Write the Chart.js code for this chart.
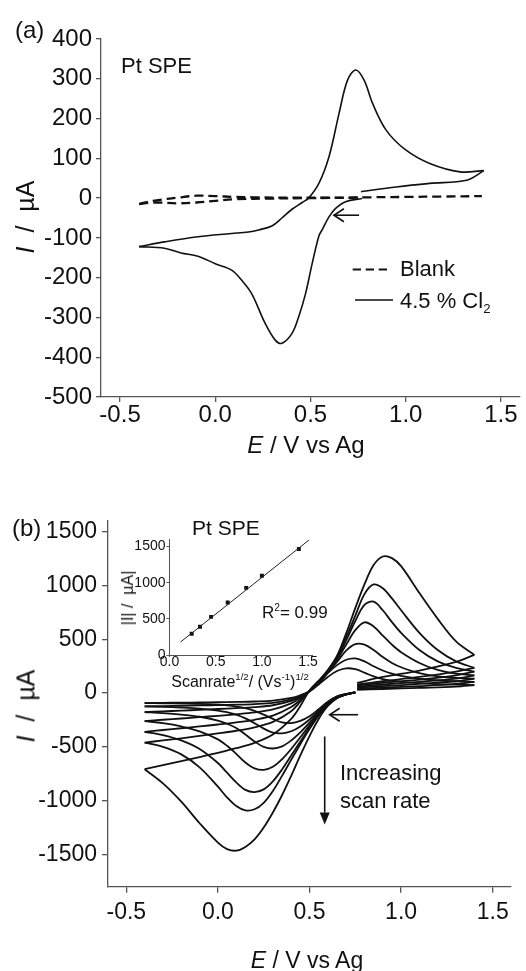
<!DOCTYPE html>
<html>
<head>
<meta charset="utf-8">
<title>Pt SPE cyclic voltammetry</title>
<script src="https://cdn.jsdelivr.net/npm/chart.js@4.4.1/dist/chart.umd.min.js"></script>
<style>
  html, body { margin: 0; padding: 0; background: #fff; }
  #fig { position: relative; width: 526px; height: 971px; overflow: hidden; font-family: 'Liberation Sans', Arial, sans-serif; color: #111; }
  #fig canvas { position: absolute; }
  .lbl { position: absolute; white-space: nowrap; line-height: 1; }
  .midy { transform: translateY(-50%); }
  .mid { transform: translate(-50%, -50%); }
  .rot { transform: translate(-50%, -50%) rotate(-90deg); }
  .sup { font-size: 0.6em; position: relative; top: -0.7em; }
  .sub { font-size: 0.6em; position: relative; top: 0.35em; }
</style>
</head>
<body>
<div id="fig">
  <canvas id="cvA" width="526" height="480" style="left:0;top:0"></canvas>
  <canvas id="cvB" width="526" height="491" style="left:0;top:480px"></canvas>
  <canvas id="cvInset" width="215" height="165" style="left:110px;top:530px"></canvas>

  <svg width="526" height="480" style="position:absolute;left:0;top:0">
    <line x1="352.7" y1="269.5" x2="387" y2="269.5" stroke="#111" stroke-width="2" stroke-dasharray="8.3 4.7"/>
    <line x1="355" y1="300" x2="393" y2="300" stroke="#111" stroke-width="1.5"/>
  </svg>

  <!-- panel (a) -->
  <div class="lbl midy" style="left:15px;top:30px;font-size:24px">(a)</div>
  <div class="lbl midy" style="left:121px;top:66px;font-size:22px">Pt SPE</div>
  <div class="lbl midy" style="left:400px;top:269px;font-size:22px">Blank</div>
  <div class="lbl midy" style="left:400px;top:301px;font-size:22px">4.5 % Cl<span class="sub">2</span></div>
  <div class="lbl mid" style="left:306px;top:445px;font-size:24px"><i>E</i> / V vs Ag</div>
  <div class="lbl rot" style="left:25px;top:217px;font-size:25px"><i>I</i>&nbsp;&nbsp;/&nbsp;&nbsp;µA</div>

  <!-- panel (b) -->
  <div class="lbl midy" style="left:12px;top:528px;font-size:24px">(b)</div>
  <div class="lbl midy" style="left:192px;top:527px;font-size:21px">Pt SPE</div>
  <div class="lbl rot" style="left:128px;top:598px;font-size:16px">|I|&nbsp;/&nbsp;&nbsp;µA|</div>
  <div class="lbl mid" style="left:240px;top:682px;font-size:16px">Scanrate<span class="sup">1/2</span>/ (Vs<span class="sup">-1</span>)<span class="sup">1/2</span></div>
  <div class="lbl midy" style="left:262px;top:612px;font-size:17px">R<span class="sup">2</span>= 0.99</div>
  <div class="lbl" style="left:340px;top:759px;font-size:22px;line-height:28px">Increasing<br>scan rate</div>
  <div class="lbl mid" style="left:307px;top:960px;font-size:23px"><i>E</i> / V vs Ag</div>
  <div class="lbl rot" style="left:26px;top:706px;font-size:25px"><i>I</i>&nbsp;&nbsp;/&nbsp;&nbsp;µA</div>
</div>

<script>
// ---- panel (a): 4.5 % Cl2 and blank, Pt SPE ----
const potentialTicks = [-0.5, 0.0, 0.5, 1.0, 1.5];
const currentTicksA = [-500, -400, -300, -200, -100, 0, 100, 200, 300, 400];

const blankE = [0.75, 0.5, 0.3, 0.1, 0, -0.1, -0.2, -0.3, -0.35, -0.4, -0.35, -0.3, -0.2, -0.1, 0, 0.1, 0.2, 0.4, 0.6, 0.8, 1.0, 1.2, 1.4];
const blankI = [1, 0, -1, -3, -7, -11, -13, -11, -12, -15, -9, -5, 1, 6, 5, 3, 2, 1, 1, 2, 3, 4, 5];

const chlorineE = [0.77, 0.685, 0.632, 0.597, 0.561, 0.544, 0.509, 0.474, 0.438, 0.403, 0.35, 0.315, 0.262, 0.191, 0.138, 0.086, 0, -0.091, -0.18, -0.267, -0.4,
  -0.267, -0.09, 0.086, 0.174, 0.227, 0.297, 0.35, 0.403, 0.456, 0.49, 0.544, 0.597, 0.65, 0.694, 0.738, 0.782, 0.826, 0.897, 1.0, 1.126, 1.285, 1.41,
  1.32, 1.126, 0.95, 0.765];
const chlorineI = [-1, -9, -26, -47, -80, -95, -164, -240, -298, -340, -365, -357, -315, -240, -206, -181, -165, -146, -138, -126, -122,
  -110, -97, -89, -85, -80, -70, -50, -28, -11, 0, 37, 104, 213, 296, 322, 296, 238, 171, 121, 87, 66, 69,
  45, 37, 28, 16];

// ---- panel (b): increasing scan rate ----
const currentTicksB = [-1500, -1000, -500, 0, 500, 1000, 1500];
const scanE = [0.75, 0.7, 0.65, 0.6, 0.55, 0.5, 0.45, 0.4, 0.35, 0.3, 0.25, 0.2, 0.15, 0.1, 0.05, 0, -0.1, -0.2, -0.3, -0.4,
  -0.3, -0.2, -0.1, 0, 0.1, 0.2, 0.3, 0.4, 0.45, 0.5, 0.55, 0.6, 0.65, 0.7, 0.75, 0.8, 0.85, 0.9, 0.95, 1.0, 1.1, 1.2, 1.3, 1.4,
  1.3, 1.1, 0.9, 0.76];
const scan1 = [3, -8, -30, -80, -150, -215, -258, -279, -272, -240, -200, -165, -140, -125, -115, -108, -100, -97, -95, -93,
  -91, -89, -87, -85, -82, -78, -70, -45, -20, 15, 80, 150, 205, 230, 222, 190, 155, 130, 115, 105, 92, 84, 79, 75,
  60, 48, 38, 30];
const scan2 = [4, -9, -33, -88, -165, -245, -310, -355, -374, -368, -330, -280, -235, -200, -178, -162, -145, -135, -128, -124,
  -121, -118, -115, -112, -108, -102, -90, -58, -25, 18, 88, 185, 260, 310, 323, 295, 250, 210, 180, 160, 132, 118, 110, 105,
  85, 65, 50, 40];
const scan3 = [5, -10, -36, -95, -180, -275, -365, -440, -495, -515, -500, -450, -385, -325, -285, -255, -220, -200, -186, -176,
  -170, -163, -156, -148, -140, -130, -113, -72, -32, 20, 95, 195, 290, 395, 455, 450, 400, 335, 280, 240, 185, 155, 142, 135,
  110, 85, 65, 50];
const scan4 = [6, -11, -40, -100, -190, -300, -410, -520, -615, -685, -714, -700, -645, -565, -490, -430, -355, -310, -280, -260,
  -248, -236, -224, -211, -197, -180, -152, -95, -45, 20, 100, 200, 310, 450, 585, 658, 620, 535, 450, 380, 280, 215, 180, 165,
  135, 105, 80, 60];
const scan5 = [7, -12, -42, -105, -200, -320, -450, -580, -710, -820, -895, -920, -900, -830, -740, -650, -520, -440, -390, -360,
  -343, -327, -310, -292, -272, -248, -210, -130, -62, 20, 105, 205, 325, 490, 670, 820, 850, 770, 660, 560, 400, 295, 235, 200,
  165, 125, 95, 70];
const scan6 = [8, -13, -44, -110, -210, -335, -475, -620, -770, -910, -1020, -1080, -1090, -1050, -970, -870, -690, -570, -500, -460,
  -440, -420, -398, -375, -350, -318, -268, -168, -80, 20, 108, 210, 335, 520, 720, 920, 1010, 975, 880, 770, 560, 400, 295, 235,
  200, 150, 110, 80];
const scan7 = [10, -14, -48, -120, -240, -400, -580, -770, -950, -1110, -1250, -1360, -1430, -1465, -1450, -1390, -1210, -1010, -840, -708,
  -670, -632, -595, -555, -512, -462, -385, -240, -120, 25, 115, 215, 345, 555, 790, 1010, 1190, 1270, 1255, 1180, 930, 690, 480, 355,
  290, 210, 150, 95];

// ---- inset: peak current vs sqrt(scan rate) ----
const sqrtRate = [0.24, 0.33, 0.45, 0.63, 0.83, 1.0, 1.40];
const peakCurrent = [295, 391, 527, 727, 928, 1096, 1465];
const fitX = [0.12, 1.51];
const fitY = [180, 1590];
const insetXTicks = [0.0, 0.5, 1.0, 1.5];
const insetYTicks = [0, 500, 1000, 1500];

// arrows, in data units
const arrowsA = [{ from: [0.755, -43], to: [0.623, -43], head: 10, half: 6.5 }];
const arrowsB = [
  { from: [0.765, -201], to: [0.61, -201], head: 10, half: 6.5 },
  { from: [0.583, -403], to: [0.583, -1222], head: 12, half: 5, filled: true }
];

Chart.defaults.font.family = "'Liberation Sans', Arial, sans-serif";
Chart.defaults.color = '#111';

// split a cyclic scan where the potential turns round, so the corners stay sharp
function branches(E, I) {
  const out = [];
  let cur = [{ x: E[0], y: I[0] }];
  let dir = 0;
  for (let i = 1; i < E.length; i++) {
    const d = Math.sign(E[i] - E[i - 1]);
    if (dir && d !== dir) {
      out.push(cur);
      cur = [{ x: E[i - 1], y: I[i - 1] }];
    }
    dir = d;
    cur.push({ x: E[i], y: I[i] });
  }
  out.push(cur);
  return out;
}

function line(points, width, dash) {
  return { data: points, showLine: true, borderColor: '#111', borderWidth: width, borderDash: dash || [],
           pointRadius: 0, tension: 0.35, fill: false };
}

function axis(o) {
  return {
    type: 'linear', min: o.min, max: o.max,
    afterFit: s => { if (s.isHorizontal()) s.height = o.size; else s.width = o.size; },
    afterBuildTicks: s => { s.ticks = o.ticks.map(v => ({ value: v })); },
    ticks: { autoSkip: false, maxRotation: 0, padding: o.pad, color: '#111',
             font: { size: o.font, lineHeight: 1 }, callback: o.fmt },
    grid: { drawOnChartArea: false, drawTicks: true, tickLength: o.tick, color: '#555', lineWidth: o.lw },
    border: { display: true, color: '#555', width: o.lw }
  };
}

const arrowPlugin = {
  id: 'arrows',
  afterDatasetsDraw(chart, args, opts) {
    const ctx = chart.ctx, sx = chart.scales.x, sy = chart.scales.y;
    ctx.save();
    ctx.strokeStyle = '#111';
    ctx.fillStyle = '#111';
    ctx.lineWidth = 1.6;
    ctx.lineCap = 'butt';
    (opts.items || []).forEach(a => {
      const x0 = sx.getPixelForValue(a.from[0]), y0 = sy.getPixelForValue(a.from[1]);
      const x1 = sx.getPixelForValue(a.to[0]), y1 = sy.getPixelForValue(a.to[1]);
      const ang = Math.atan2(y1 - y0, x1 - x0);
      const bx = x1 - a.head * Math.cos(ang), by = y1 - a.head * Math.sin(ang);
      const px = -Math.sin(ang) * a.half, py = Math.cos(ang) * a.half;
      ctx.beginPath();
      ctx.moveTo(x0, y0);
      ctx.lineTo(a.filled ? bx : x1, a.filled ? by : y1);
      ctx.stroke();
      ctx.beginPath();
      ctx.moveTo(bx + px, by + py);
      ctx.lineTo(x1, y1);
      ctx.lineTo(bx - px, by - py);
      if (a.filled) { ctx.closePath(); ctx.fill(); } else { ctx.stroke(); }
    });
    ctx.restore();
  }
};

const fmtE = v => v.toFixed(1);
const fmtI = v => String(v);

// 1. PANEL (a)
new Chart(document.getElementById('cvA'), {
  type: 'scatter',
  data: {
    datasets: [
      ...branches(blankE, blankI).map(p => line(p, 2.3, [9, 5])),
      ...branches(chlorineE, chlorineI).map(p => line(p, 1.6))
    ]
  },
  options: {
    responsive: false, animation: false,
    layout: { padding: { left: 0, right: 6, top: 39, bottom: 0 } },
    plugins: { legend: { display: false }, tooltip: { enabled: false }, arrows: { items: arrowsA } },
    scales: {
      x: axis({ min: -0.6, max: 1.6, size: 83, ticks: potentialTicks, pad: 1, font: 24, fmt: fmtE, tick: 5, lw: 1.3 }),
      y: axis({ min: -500, max: 400, size: 101, ticks: currentTicksA, pad: 4, font: 24, fmt: fmtI, tick: 5, lw: 1.3 })
    }
  },
  plugins: [arrowPlugin]
});

// 2. PANEL (b)
const scans = [scan1, scan2, scan3, scan4, scan5, scan6, scan7];
const datasetsB = [];
scans.forEach(s => branches(scanE, s).forEach(p => datasetsB.push(line(p, 1.8))));

new Chart(document.getElementById('cvB'), {
  type: 'scatter',
  data: { datasets: datasetsB },
  options: {
    responsive: false, animation: false,
    layout: { padding: { left: 0, right: 15, top: 41, bottom: 0 } },
    plugins: { legend: { display: false }, tooltip: { enabled: false }, arrows: { items: arrowsB } },
    scales: {
      x: axis({ min: -0.6, max: 1.6, size: 84.3, ticks: potentialTicks, pad: 8, font: 23, fmt: fmtE, tick: 6, lw: 1.3 }),
      y: axis({ min: -1800, max: 1600, size: 108, ticks: currentTicksB, pad: 5, font: 23, fmt: fmtI, tick: 6, lw: 1.3 })
    }
  },
  plugins: [arrowPlugin]
});

// 3. INSET
new Chart(document.getElementById('cvInset'), {
  type: 'scatter',
  data: {
    datasets: [
      { data: fitX.map((x, i) => ({ x, y: fitY[i] })), showLine: true, borderColor: '#222', borderWidth: 1,
        pointRadius: 0, fill: false },
      { data: sqrtRate.map((x, i) => ({ x, y: peakCurrent[i] })), showLine: false, pointStyle: 'rect',
        pointRadius: 2.8, backgroundColor: '#111', borderColor: '#111', borderWidth: 0 }
    ]
  },
  options: {
    responsive: false, animation: false,
    layout: { padding: { left: 0, right: 12.3, top: 9.3, bottom: 0 } },
    plugins: { legend: { display: false }, tooltip: { enabled: false } },
    scales: {
      x: axis({ min: 0, max: 1.55, size: 40, ticks: insetXTicks, pad: -1.5, font: 14, fmt: fmtE, tick: 2, lw: 1 }),
      y: axis({ min: 0, max: 1600, size: 59.5, ticks: insetYTicks, pad: 1, font: 14, fmt: fmtI, tick: 3, lw: 1 })
    }
  }
});
</script>
</body>
</html>
